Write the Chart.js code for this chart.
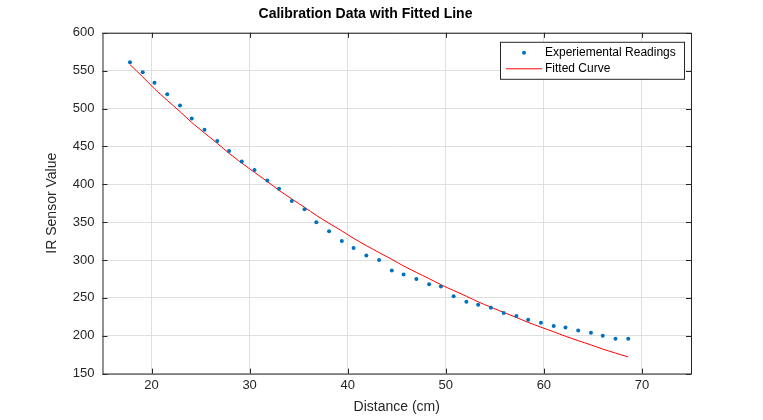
<!DOCTYPE html>
<html><head><meta charset="utf-8">
<script src="https://cdn.jsdelivr.net/npm/chart.js@4/dist/chart.umd.min.js"></script>
<style>html,body{margin:0;background:#fff}#wrap{width:763px;height:420px}</style>
</head><body><div id="wrap"><canvas id="c"></canvas></div>
<script>
const distance = [17.8,19.1,20.3,21.6,22.9,24.1,25.4,26.7,27.9,29.2,30.5,31.8,33.0,34.3,35.6,36.8,38.1,39.4,40.6,41.9,43.2,44.5,45.7,47.0,48.3,49.5,50.8,52.1,53.3,54.6,55.9,57.2,58.4,59.7,61.0,62.2,63.5,64.8,66.0,67.3,68.6];
const readings = [561,548,534,519,504,487,472,457,444,430,419,405,394,378,367,350,338,325,316,306,300,286,281,275,268,265,252,245,241,237,230,226,221,217,213,211,207,204,200,196,196];
const fitted = [558,541.8,526.1,510.8,496.0,481.6,467.7,454.1,440.9,428.1,415.7,403.7,392.0,380.6,369.6,358.9,348.5,338.4,328.6,319.0,309.8,300.8,292.1,283.6,275.4,267.4,259.7,252.1,244.8,237.7,230.8,224.1,217.6,211.3,205.2,199.3,193.5,187.9,182.4,177.1,172.0];
const xTicks = [20,30,40,50,60,70];

const font = "Arial, 'Liberation Sans', sans-serif";

// frame + legend box drawn like the original
const framePlugin = {
  id: "frame",
  afterDraw(chart) {
    const {ctx, chartArea: a} = chart;
    ctx.save();
    ctx.strokeStyle = "#262626";
    ctx.lineWidth = 1;
    ctx.strokeRect(a.left + 0.5, a.top + 0.5, a.right - a.left, a.bottom - a.top);
    // inward ticks
    const xs = chart.scales.x, ys = chart.scales.y;
    ctx.beginPath();
    xs.ticks.forEach(t => {
      const p = Math.round(xs.getPixelForValue(t.value)) + 0.5;
      ctx.moveTo(p, a.bottom); ctx.lineTo(p, a.bottom - 5);
      ctx.moveTo(p, a.top); ctx.lineTo(p, a.top + 5);
    });
    ys.ticks.forEach(t => {
      const p = Math.round(ys.getPixelForValue(t.value)) + 0.5;
      ctx.moveTo(a.left, p); ctx.lineTo(a.left + 5, p);
      ctx.moveTo(a.right, p); ctx.lineTo(a.right - 5, p);
    });
    ctx.stroke();
    // legend
    const bx = a.right - 191, by = a.top + 9, bw = 184, bh = 37;
    ctx.fillStyle = "#fff";
    ctx.fillRect(bx, by, bw, bh);
    ctx.strokeStyle = "#262626";
    ctx.strokeRect(bx + 0.5, by + 0.5, bw, bh);
    ctx.font = "12px " + font;
    ctx.textBaseline = "middle";
    ctx.fillStyle = "#0072BD";
    ctx.beginPath(); ctx.arc(bx + 24, by + 11, 2, 0, Math.PI * 2); ctx.fill();
    ctx.strokeStyle = "#ff0000";
    ctx.beginPath(); ctx.moveTo(bx + 6, by + 27); ctx.lineTo(bx + 42, by + 27); ctx.stroke();
    ctx.fillStyle = "#000";
    ctx.fillText(chart.data.datasets[0].label, bx + 45, by + 11);
    ctx.fillText(chart.data.datasets[1].label, bx + 45, by + 27);
    ctx.restore();
  }
};

new Chart(document.getElementById("c"), {
  type: "scatter",
  data: {
    datasets: [
      {
        label: "Experiemental Readings",
        data: distance.map((x, i) => ({x, y: readings[i]})),
        backgroundColor: "#0072BD",
        borderColor: "#0072BD",
        pointRadius: 2,
        pointBorderWidth: 0
      },
      {
        label: "Fitted Curve",
        type: "line",
        data: distance.map((x, i) => ({x, y: fitted[i]})),
        borderColor: "#ff0000",
        borderWidth: 1,
        pointRadius: 0,
        fill: false,
        tension: 0.3
      }
    ]
  },
  options: {
    responsive: true,
    maintainAspectRatio: false,
    animation: false,
    layout: {padding: {left: 40, right: 72, top: 2, bottom: 0}},
    plugins: {
      legend: {display: false},
      tooltip: {enabled: false},
      title: {
        display: true,
        text: "Calibration Data with Fitted Line",
        color: "#000",
        font: {family: font, size: 14, weight: "bold"},
        padding: {top: 4, bottom: 10}
      }
    },
    scales: {
      x: {
        type: "linear", min: 15, max: 75,
        afterBuildTicks: axis => { axis.ticks = xTicks.map(v => ({value: v})); },
        ticks: {color: "#262626", font: {family: font, size: 13}, padding: 4},
        grid: {color: "#dfdfdf", drawTicks: false},
        border: {display: false},
        title: {display: true, text: "Distance (cm)", color: "#262626", font: {family: font, size: 14}, padding: {top: 2}}
      },
      y: {
        min: 150, max: 600,
        ticks: {stepSize: 50, color: "#262626", font: {family: font, size: 13}, padding: 8},
        grid: {color: "#dfdfdf", drawTicks: false},
        border: {display: false},
        title: {display: true, text: "IR Sensor Value", color: "#262626", font: {family: font, size: 14}, padding: {bottom: 4}}
      }
    }
  },
  plugins: [framePlugin]
});
</script></body></html>
